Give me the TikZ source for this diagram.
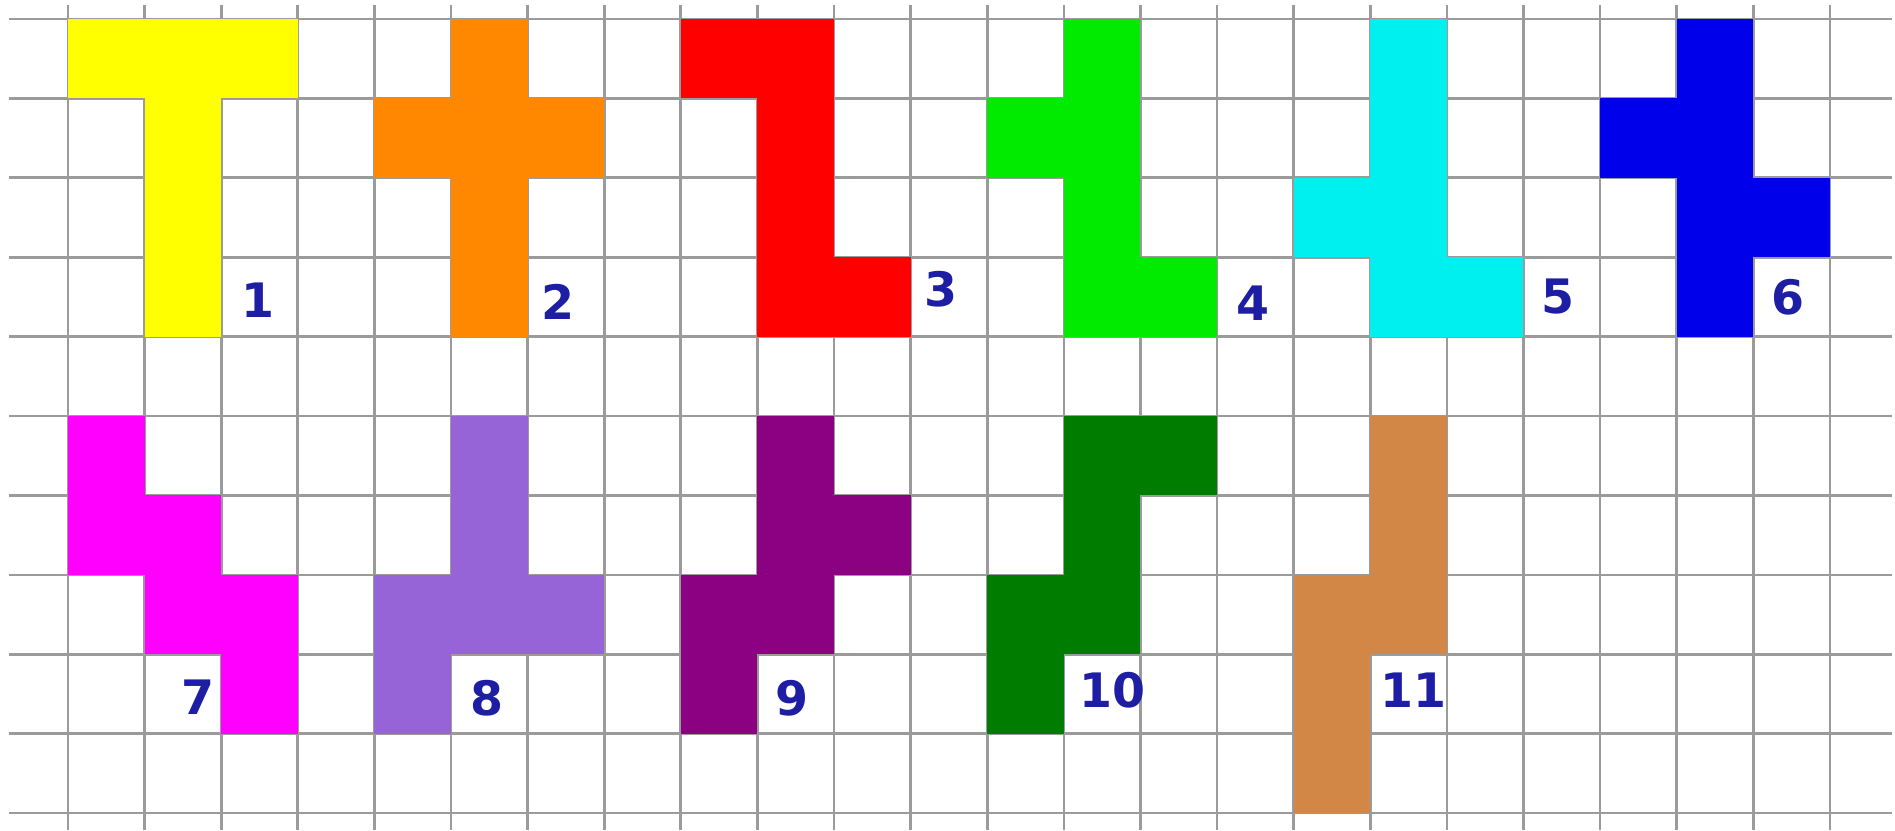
\documentclass[tikz,border=0pt]{standalone}
\usepackage{fontspec}
\newfontfamily\numfont{DejaVu Sans}
\definecolor{NetYellow}{RGB}{255,255,0}
\definecolor{NetOrange}{RGB}{255,136,0}
\definecolor{NetRed}{RGB}{255,0,0}
\definecolor{NetGreen}{RGB}{0,235,0}
\definecolor{NetCyan}{RGB}{0,240,240}
\definecolor{NetBlue}{RGB}{0,0,235}
\definecolor{NetMagenta}{RGB}{255,0,255}
\definecolor{NetLavender}{RGB}{150,100,215}
\definecolor{NetPurple}{RGB}{140,0,130}
\definecolor{NetForest}{RGB}{0,125,0}
\definecolor{NetBrown}{RGB}{210,135,70}
\definecolor{GridGray}{RGB}{155,155,155}
\definecolor{LabelBlue}{RGB}{30,30,165}

\begin{document}
\begin{tikzpicture}[x=1.532cm,y=-1.588cm,num/.style={text=LabelBlue,font=\numfont\bfseries\fontsize{27}{27}\selectfont,inner sep=0pt},gl/.style={GridGray,line width=1.5pt}]
\useasboundingbox (-0.8877,-0.2393) rectangle (23.851,10.214);
\fill[white] (-0.8877,-0.2393) rectangle (23.851,10.214);
\foreach \i in {0,...,23} \draw[gl] (\i,-0.176)--(\i,10.214);
\foreach \j in {0,...,10} \draw[gl] (-0.77,\j)--(23.81,\j);
% top row of nets
\foreach \c/\r in {0/0,1/0,2/0,1/1,1/2,1/3} \fill[NetYellow] (\c,\r) rectangle ++(1,1);
\foreach \c/\r in {5/0,4/1,5/1,6/1,5/2,5/3} \fill[NetOrange] (\c,\r) rectangle ++(1,1);
\foreach \c/\r in {8/0,9/0,9/1,9/2,9/3,10/3} \fill[NetRed] (\c,\r) rectangle ++(1,1);
\foreach \c/\r in {13/0,12/1,13/1,13/2,13/3,14/3} \fill[NetGreen] (\c,\r) rectangle ++(1,1);
\foreach \c/\r in {17/0,17/1,16/2,17/2,17/3,18/3} \fill[NetCyan] (\c,\r) rectangle ++(1,1);
\foreach \c/\r in {21/0,20/1,21/1,21/2,22/2,21/3} \fill[NetBlue] (\c,\r) rectangle ++(1,1);
% bottom row of nets
\foreach \c/\r in {0/5,0/6,1/6,1/7,2/7,2/8} \fill[NetMagenta] (\c,\r) rectangle ++(1,1);
\foreach \c/\r in {5/5,5/6,4/7,5/7,6/7,4/8} \fill[NetLavender] (\c,\r) rectangle ++(1,1);
\foreach \c/\r in {9/5,9/6,10/6,8/7,9/7,8/8} \fill[NetPurple] (\c,\r) rectangle ++(1,1);
\foreach \c/\r in {13/5,14/5,13/6,12/7,13/7,12/8} \fill[NetForest] (\c,\r) rectangle ++(1,1);
\foreach \c/\r in {17/5,17/6,16/7,17/7,16/8,16/9} \fill[NetBrown] (\c,\r) rectangle ++(1,1);
\node[num] (lab1) at (2.48,3.54) {1};\node[num] (lab2) at (6.4,3.56) {2};\node[num] (lab3) at (11.4,3.4) {3};
\node[num] (lab4) at (15.47,3.58) {4};\node[num] (lab5) at (19.45,3.5) {5};\node[num] (lab6) at (22.45,3.5) {6};
\node[num] (lab7) at (1.7,8.54) {7};\node[num] (lab8) at (5.47,8.56) {8};\node[num] (lab9) at (9.45,8.56) {9};
\node[num] (lab10) at (13.63,8.45) {10};\node[num] (lab11) at (17.56,8.45) {11};
\end{tikzpicture}
\end{document}
